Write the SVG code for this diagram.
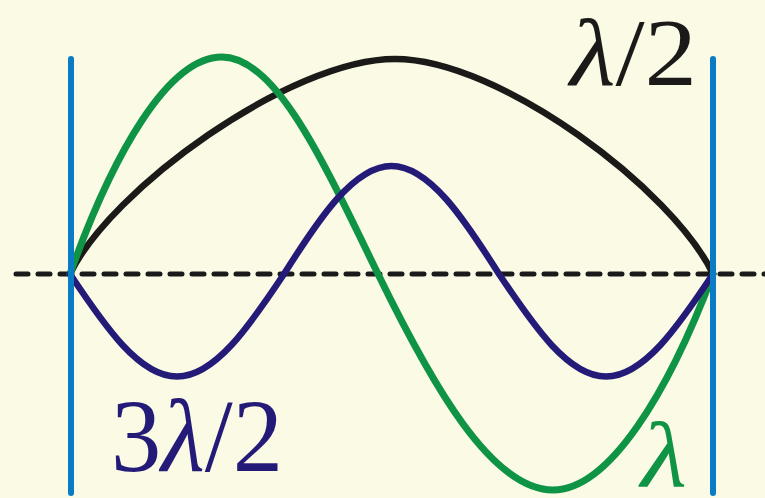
<svg xmlns="http://www.w3.org/2000/svg" width="765" height="498" viewBox="0 0 765 498">
<style>
.wave{fill:none;stroke-linecap:round;stroke-linejoin:round}
.wall{stroke:#0a7cc6;stroke-width:6;stroke-linecap:round}
.lbl{font-family:"Liberation Serif","DejaVu Serif",serif}
</style>
<rect x="0" y="0" width="765" height="498" fill="#fafae5"/>
<g id="axis">
<line x1="16" y1="274" x2="765" y2="274" stroke="#1a1a1a" stroke-width="5" stroke-dasharray="12 10" stroke-linecap="round"/>
</g>
<g id="waves">
<path id="half" class="wave" stroke="#1b1a18" stroke-width="6.5" d="M70,274 C110,190 290,59 395,59 C500,59 673,190 713,274"/>
<path id="full" class="wave" stroke="#0f9345" stroke-width="7" d="M70,274 C112.6,154.6 168,57 222,57 C276.8,57 325,165.4 378,274 C432,384.7 491.6,490 553,490 C609.2,490 668.2,392.8 713,274"/>
<path id="threehalf" class="wave" stroke="#241b78" stroke-width="6.5" d="M70,274 C104.9,326.5 139.4,376.5 177,376.5 C214.6,376.5 249.1,326.5 284,274 C318.9,218.7 353.9,166 391.5,166 C429.2,166 464,218.7 499,274 C534,326.5 568.4,376.5 606,376.5 C643.6,376.5 678.1,326.5 713,274"/>
</g>
<g id="walls">
<line class="wall" x1="71" y1="59" x2="71" y2="493"/>
<line class="wall" x1="713" y1="59" x2="713" y2="493"/>
</g>
<g id="labels">
<text class="lbl" x="570" y="85" font-size="96" fill="#1b1a18" textLength="127" lengthAdjust="spacingAndGlyphs"><tspan font-style="italic">λ</tspan>/2</text>
<text class="lbl" x="111" y="471" font-size="104" fill="#241b78" textLength="172" lengthAdjust="spacingAndGlyphs">3<tspan font-style="italic">λ</tspan>/2</text>
<text class="lbl" x="641" y="486" font-size="94" fill="#0f9345" font-style="italic" textLength="46" lengthAdjust="spacingAndGlyphs">λ</text>
</g>
</svg>
